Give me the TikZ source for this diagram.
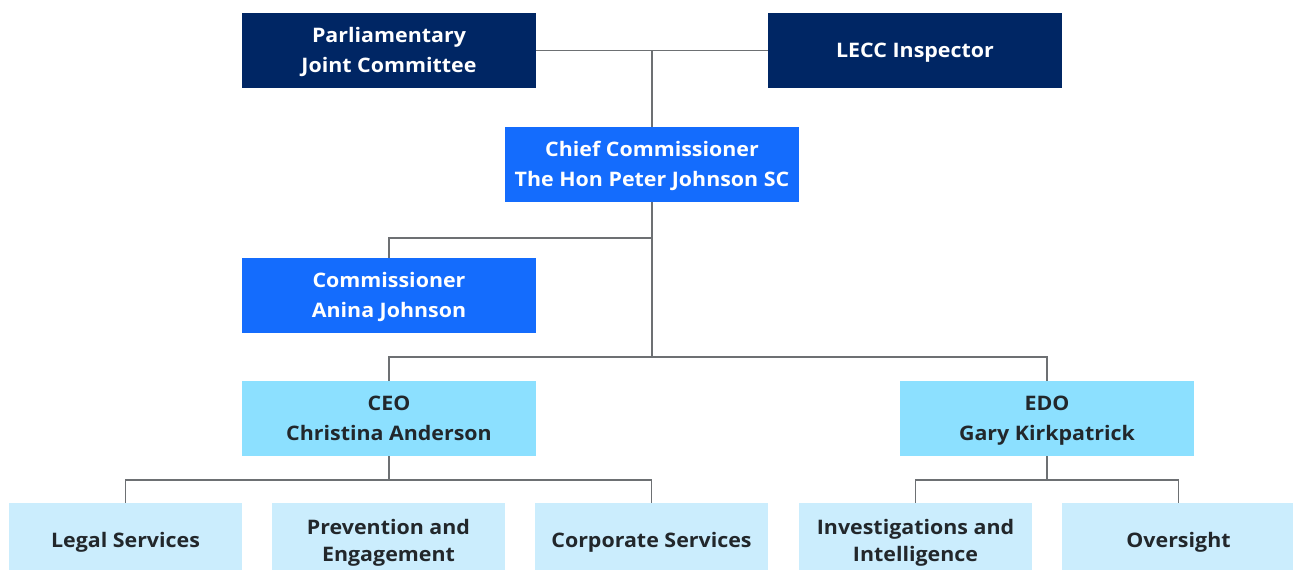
\documentclass[tikz,border=0pt]{standalone}
\usepackage{fontspec}
\setmainfont{Open Sans}[FakeStretch=1.07]
\usetikzlibrary{positioning}
\definecolor{navy}{HTML}{002664}
\definecolor{brightblue}{HTML}{146CFD}
\definecolor{skyblue}{HTML}{8CE0FF}
\definecolor{paleblue}{HTML}{CBEDFD}
\definecolor{inkgrey}{HTML}{22272B}
\definecolor{linegrey}{HTML}{6D7073}

\begin{document}
\begin{tikzpicture}[x=1pt,y=-1pt]
\tikzstyle{box}=[minimum width=294pt,minimum height=75pt,inner sep=0pt,align=center,font=\bfseries\fontsize{20}{30}\selectfont,text height=14.3pt,text depth=0pt]
\tikzstyle{twoline}=[text height=44.3pt]
\tikzstyle{board}=[box,fill=navy,text=white]
\tikzstyle{exec}=[box,fill=brightblue,text=white]
\tikzstyle{head}=[box,fill=skyblue,text=inkgrey]
\tikzstyle{unit}=[box,fill=paleblue,text=inkgrey,minimum width=233pt,font=\bfseries\fontsize{20}{27}\selectfont]
\tikzstyle{link}=[draw=linegrey,line width=1.3pt]
\useasboundingbox (0,0) rectangle (1293,570);

\node[board,twoline] (pjc) at (389,50.5) {Parliamentary\\Joint Committee};
\node[board] (lecc) at (915,50.5) {LECC Inspector};
\node[exec,twoline] (chief) at (652,164.5) {Chief Commissioner\\The Hon Peter Johnson SC};
\node[exec,twoline] (comm) at (389,295.5) {Commissioner\\Anina Johnson};
\node[head,twoline] (ceo) at (389,418.5) {CEO\\Christina Anderson};
\node[head,twoline] (edo) at (1047,418.5) {EDO\\Gary Kirkpatrick};

\node[unit] (legal) at (125.5,540.5) {Legal Services};
\node[unit,twoline,text height=41.3pt] (prev) at (388.5,540.5) {Prevention and\\Engagement};
\node[unit] (corp) at (651.5,540.5) {Corporate Services};
\node[unit,twoline,text height=41.3pt] (invest) at (915.5,540.5) {Investigations and\\Intelligence};
\node[unit] (over) at (1178.5,540.5) {Oversight};

% bus points
\coordinate (j1) at (652,238);
\coordinate (j2) at (652,357);
\coordinate (j3) at (389,480);
\coordinate (j4) at (1047,480);

\draw[link] (pjc.east) -- (lecc.west);
\draw[link] (chief.north) -- (chief.north |- pjc.east);
\draw[link] (chief.south) -- (j2);
\draw[link] (comm.north) |- (j1);
\draw[link] (ceo.north) |- (j2) -| (edo.north);
\draw[link] (ceo.south) -- (j3);
\draw[link] (legal.north) |- (j3) -| (corp.north);
\draw[link] (edo.south) -- (j4);
\draw[link] (invest.north) |- (j4) -| (over.north);
\end{tikzpicture}
\end{document}
